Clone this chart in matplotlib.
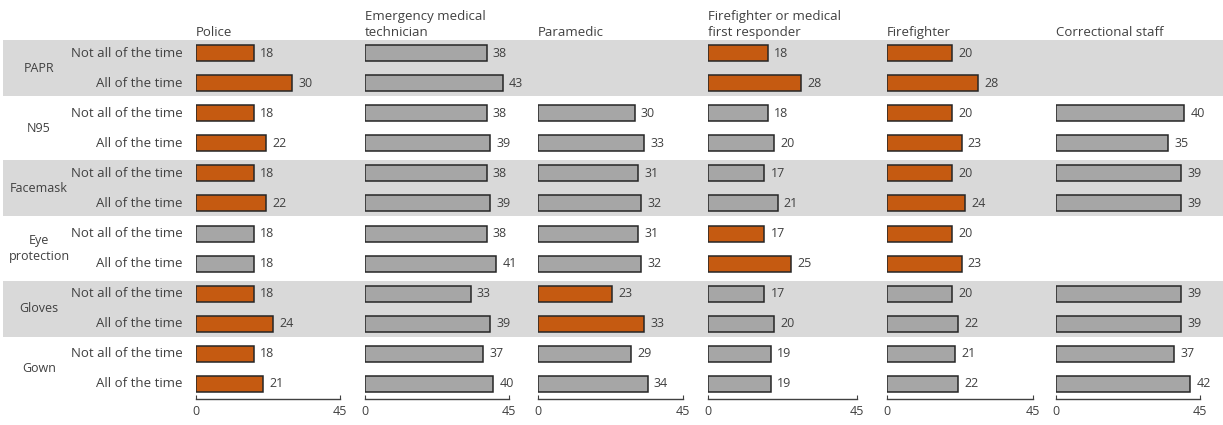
import numpy as np
import matplotlib
matplotlib.use('Agg')
import matplotlib.pyplot as plt

plt.rcParams['font.family'] = ['Open Sans', 'DejaVu Sans']

groups = ['PAPR', 'N95', 'Facemask', 'Eye\nprotection', 'Gloves', 'Gown']
levels = ['Not all of the time', 'All of the time']
panels = ['Police', 'Emergency medical\ntechnician', 'Paramedic',
          'Firefighter or medical\nfirst responder', 'Firefighter', 'Correctional staff']

nan = np.nan
police = [18, 30, 18, 22, 18, 22, 18, 18, 18, 24, 18, 21]
emt = [38, 43, 38, 39, 38, 39, 38, 41, 33, 39, 37, 40]
paramedic = [nan, nan, 30, 33, 31, 32, 31, 32, 23, 33, 29, 34]
ff_medical = [18, 28, 18, 20, 17, 21, 17, 25, 17, 20, 19, 19]
firefighter = [20, 28, 20, 23, 20, 24, 20, 23, 20, 22, 21, 22]
correctional = [nan, nan, 40, 35, 39, 39, nan, nan, 39, 39, 37, 42]

# 1 = highlighted (orange) bar
hl_police = [1, 1, 1, 1, 1, 1, 0, 0, 1, 1, 1, 1]
hl_emt = [0] * 12
hl_paramedic = [0, 0, 0, 0, 0, 0, 0, 0, 1, 1, 0, 0]
hl_ff_medical = [1, 1, 0, 0, 0, 0, 1, 1, 0, 0, 0, 0]
hl_firefighter = [1, 1, 1, 1, 1, 1, 1, 1, 0, 0, 0, 0]
hl_correctional = [0] * 12

series = [police, emt, paramedic, ff_medical, firefighter, correctional]
highlights = [hl_police, hl_emt, hl_paramedic, hl_ff_medical, hl_firefighter, hl_correctional]

ORANGE = '#C55A11'
GREY = '#A6A6A6'
BAND = '#D9D9D9'
TXT = '#404040'

W, H = 1223, 425
fig = plt.figure(figsize=(W / 100, H / 100), dpi=100)

# rows live between pixel y 38 and 399
y_top, y_bot = 38, 399
bottom = 1 - y_bot / H
height = (y_bot - y_top) / H
nrows = len(groups) * 2
ylim = (nrows - 0.5, -0.5)

# background axes for grey bands and the row labels
bg = fig.add_axes([0, bottom, 1, height])
bg.set_xlim(0, W)
bg.set_ylim(*ylim)
bg.axis('off')
for g in range(0, len(groups), 2):
    bg.add_patch(plt.Rectangle((3, 2 * g - 0.43), W, 1.86, color=BAND, lw=0, zorder=0))
for g, name in enumerate(groups):
    bg.text(39, 2 * g + 0.5, name, ha='center', va='center', fontsize=9, color=TXT,
            linespacing=1.25)
    for k, lev in enumerate(levels):
        bg.text(183, 2 * g + k, lev, ha='right', va='center', fontsize=9.5, color=TXT)

# panel x extents (pixels) for 0..45
x_spans = [(196, 340), (365, 509), (538, 683), (708, 857), (887, 1033), (1056, 1200)]

rows = np.arange(nrows)
for title, vals, hl, (x0, x1) in zip(panels, series, highlights, x_spans):
    ax = fig.add_axes([x0 / W, bottom, (x1 - x0) / W, height])
    ax.patch.set_alpha(0)
    ax.set_xlim(0, 45)
    ax.set_ylim(*ylim)
    vals = np.array(vals, dtype=float)
    ok = ~np.isnan(vals)
    cols = np.array([ORANGE if h else GREY for h in hl])
    ax.barh(rows[ok], vals[ok], height=0.53, color=cols[ok],
            edgecolor='#262626', linewidth=1.1, zorder=2)
    for r, v in zip(rows[ok], vals[ok]):
        ax.annotate(f'{v:.0f}', (v, r), xytext=(4.5, 0), textcoords='offset points',
                    ha='left', va='center', fontsize=9, color=TXT)
    for s in ['top', 'right', 'left']:
        ax.spines[s].set_visible(False)
    ax.spines['bottom'].set_color('#404040')
    ax.spines['bottom'].set_linewidth(1.0)
    ax.set_yticks([])
    ax.set_xticks([0, 45])
    ax.tick_params(axis='x', direction='in', length=3, color='#404040',
                   labelsize=9, labelcolor=TXT, pad=4)
    ax.annotate(title, (0, 1), xycoords='axes fraction', xytext=(0, -0.5),
                textcoords='offset points', ha='left', va='bottom',
                fontsize=9.5, color=TXT, linespacing=1.3)

fig.savefig('out.png', dpi=100)
